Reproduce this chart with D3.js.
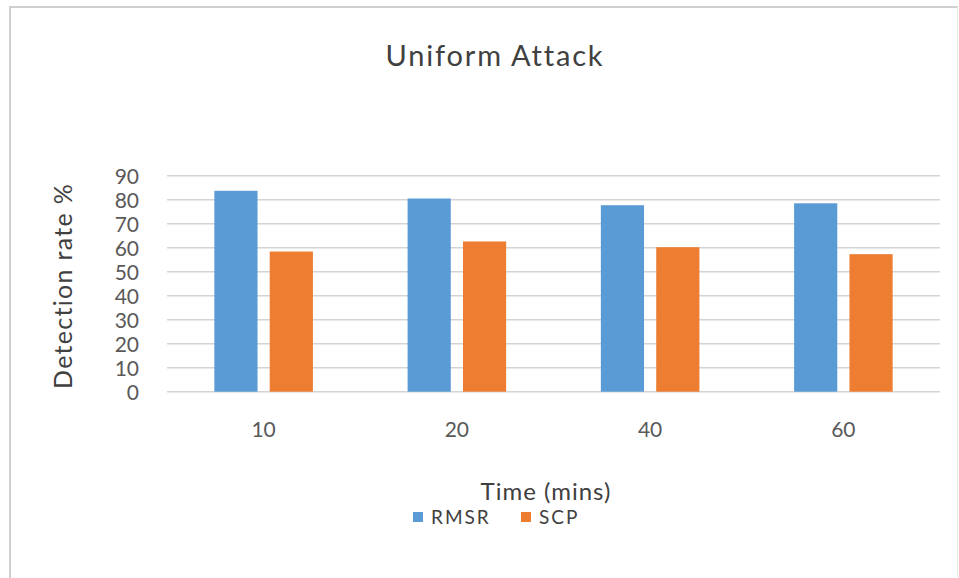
<!DOCTYPE html>
<html>
<head>
<meta charset="utf-8">
<script src="https://cdn.jsdelivr.net/npm/d3@7"></script>
<style>
  html, body { margin: 0; padding: 0; background: #fff; }
  svg { display: block; }
  text { font-family: Lato, "Open Sans", sans-serif; fill: #595959; }
</style>
</head>
<body>
<svg id="chart" width="959" height="578"></svg>
<script>
// Detection rate per monitoring window, uniform attack scenario
const categories = ["10", "20", "40", "60"];
const seriesNames = ["RMSR", "SCP"];
const rmsrValues = [83.7, 80.5, 77.7, 78.5];
const scpValues = [58.4, 62.6, 60.2, 57.3];
const yTicks = [0, 10, 20, 30, 40, 50, 60, 70, 80, 90];
const colors = ["#5B9BD5", "#ED7D31"];

const rows = categories.map((c, i) => ({ cat: c, values: [rmsrValues[i], scpValues[i]] }));

const svg = d3.select("#chart");

// outer frame of the chart area
svg.append("line")
  .attr("x1", 10).attr("x2", 10).attr("y1", 6).attr("y2", 578)
  .attr("stroke", "#cfcfcf").attr("stroke-width", 2);
svg.append("line")
  .attr("x1", 9).attr("x2", 958).attr("y1", 7).attr("y2", 7)
  .attr("stroke", "#cfcfcf").attr("stroke-width", 2);
svg.append("line")
  .attr("x1", 957.5).attr("x2", 957.5).attr("y1", 7).attr("y2", 578)
  .attr("stroke", "#ececec").attr("stroke-width", 1);

const plot = { left: 167, right: 940, top: 175.7, bottom: 391.7 };

const x0 = d3.scaleBand().domain(categories)
  .range([plot.left, plot.right])
  .paddingInner(0.49).paddingOuter(0.245);
const x1 = d3.scaleBand().domain(seriesNames)
  .range([0, x0.bandwidth()])
  .paddingInner(0.22);
const y = d3.scaleLinear().domain([0, 90]).range([plot.bottom, plot.top]);

// horizontal gridlines
svg.append("g").selectAll("line").data(yTicks).join("line")
  .attr("x1", plot.left).attr("x2", plot.right)
  .attr("y1", d => y(d)).attr("y2", d => y(d))
  .attr("stroke", "#d4d4d4").attr("stroke-width", 1.6);

// y axis labels
const yAxis = svg.append("g")
  .attr("transform", `translate(${plot.left - 28},0)`)
  .call(d3.axisLeft(y).tickValues(yTicks).tickSize(0).tickPadding(0));
yAxis.select(".domain").remove();
yAxis.selectAll("text")
  .attr("x", 0).attr("dy", "0.36em")
  .style("font-size", "21px").style("fill", "#595959")
  .style("font-family", "Lato, sans-serif");

// x axis labels
const xAxis = svg.append("g")
  .attr("transform", `translate(0,${plot.bottom})`)
  .call(d3.axisBottom(x0).tickSize(0).tickPadding(0));
xAxis.select(".domain").remove();
xAxis.selectAll("text")
  .attr("y", 45).attr("dy", 0)
  .style("font-size", "21px").style("fill", "#595959")
  .style("font-family", "Lato, sans-serif");

// bars
const groups = svg.append("g").selectAll("g").data(rows).join("g")
  .attr("transform", d => `translate(${x0(d.cat)},0)`);
groups.selectAll("rect")
  .data(d => d.values.map((v, i) => ({ key: seriesNames[i], value: v, idx: i })))
  .join("rect")
  .attr("x", d => x1(d.key))
  .attr("width", x1.bandwidth())
  .attr("y", d => y(d.value))
  .attr("height", d => y(0) - y(d.value))
  .attr("fill", d => colors[d.idx]);

// title
svg.append("text")
  .attr("x", 495).attr("y", 66)
  .attr("text-anchor", "middle")
  .style("font-size", "29px").style("letter-spacing", "1.8px")
  .style("fill", "#404040")
  .text("Uniform Attack");

// axis titles
svg.append("text")
  .attr("transform", "translate(72,286) rotate(-90)")
  .attr("text-anchor", "middle")
  .style("font-size", "25px").style("letter-spacing", "1.3px")
  .style("fill", "#404040")
  .text("Detection rate %");

svg.append("text")
  .attr("x", 546).attr("y", 500)
  .attr("text-anchor", "middle")
  .style("font-size", "24px").style("letter-spacing", "1px")
  .style("fill", "#404040")
  .text("Time (mins)");

// legend
const legendX = [413, 521];
const legend = svg.append("g").selectAll("g").data(seriesNames).join("g")
  .attr("transform", (d, i) => `translate(${legendX[i]},512)`);
legend.append("rect")
  .attr("width", 10).attr("height", 10)
  .attr("fill", (d, i) => colors[i]);
legend.append("text")
  .attr("x", 18).attr("y", 12)
  .style("font-size", "19px").style("letter-spacing", "2px")
  .style("fill", "#404040")
  .text(d => d);
</script>
</body>
</html>
